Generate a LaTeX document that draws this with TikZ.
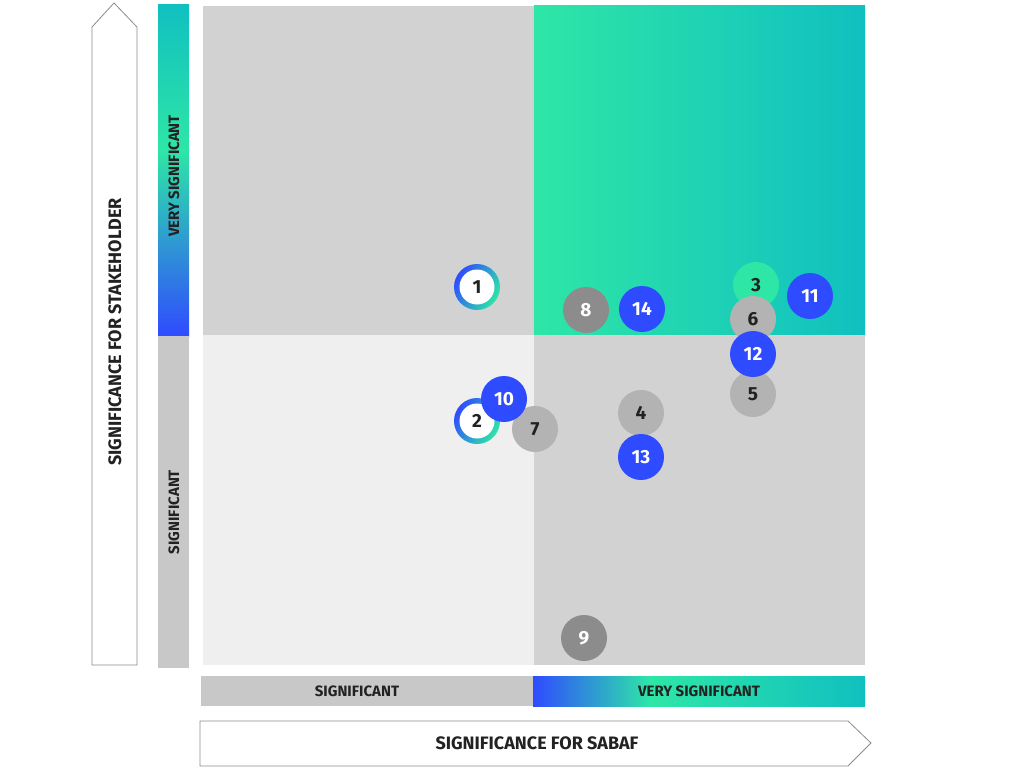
\documentclass[tikz,border=0pt]{standalone}
\usepackage{fontspec}
\setmainfont{Fira Sans}[BoldFont={Fira Sans Bold}]
\begin{document}
\begin{tikzpicture}[x=1pt,y=-1pt,
  num/.style={circle,minimum size=46pt,inner sep=0,font=\bfseries\fontsize{19}{19}\selectfont},
  bl/.style={num,fill=cblue,text=white},
  gr/.style={num,fill=cgray,text=ctext},
  dg/.style={num,fill=cdark,text=white},
  gn/.style={num,fill=cgreen,text=ctext},
  ring/.style={num,minimum size=35pt,fill=white,text=ctext},
  lab/.style={font=\bfseries\fontsize{15}{15}\selectfont,text=ctext},
  big/.style={font=\bfseries\fontsize{18}{18}\selectfont,text=ctext},
  arr/.style={draw=black!45,fill=white,line width=0.8pt}]
\definecolor{cblue}{HTML}{2F4BFF}
\definecolor{cgreen}{HTML}{2EE6A6}
\definecolor{cteal}{HTML}{10C0C0}
\definecolor{cgray}{HTML}{B3B3B3}
\definecolor{cdark}{HTML}{8C8C8C}
\definecolor{cq}{HTML}{D2D2D2}
\definecolor{cl}{HTML}{EFEFEF}
\definecolor{cbar}{HTML}{C8C8C8}
\definecolor{ctext}{HTML}{222222}
\useasboundingbox (0,0) rectangle (1024,768);
\fill[white] (0,0) rectangle (1024,768);
% vertical arrow
\draw[arr] (92,665) -- (92,27) -- (114,3) -- (137,27) -- (137,665) -- cycle;
\node[big,rotate=90] (ylab) at (115,332) {SIGNIFICANCE FOR STAKEHOLDER};
% vertical bar
\shade[top color=cteal,bottom color=cgreen] (158,5) rectangle (189,150);
\shade[top color=cgreen,bottom color=cblue] (158,150) rectangle (189,336);
\fill[cbar] (158,336) rectangle (189,668);
\node[lab,rotate=90] (vs) at (174,176) {VERY SIGNIFICANT};
\node[lab,rotate=90] (s) at (174,512) {SIGNIFICANT};
% quadrants
\fill[cq] (203,6) rectangle (534,335);
\shade[left color=cgreen,right color=cteal] (534,6) rectangle (865,335);
\fill[cl] (203,335) rectangle (534,665);
\fill[cq] (534,335) rectangle (865,665);
% horizontal bar
\fill[cbar] (201,676) rectangle (533,706);
\shade[left color=cblue,right color=cgreen] (533,676) rectangle (650,706);
\shade[left color=cgreen,right color=cteal] (650,676) -- (865,676) -- (865,706) -- (650,706) -- cycle;
\node[lab] (hs) at (357,691) {SIGNIFICANT};
\node[lab] (hvs) at (699,691) {VERY SIGNIFICANT};
% bottom arrow
\draw[arr] (200,721) -- (848,721) -- (871,743) -- (848,766) -- (200,766) -- cycle;
\node[big] (xlab) at (537,743) {SIGNIFICANCE FOR SABAF};
% rings
\shade[left color=cblue,right color=cgreen,shading angle=60] (477,287) circle (23);
\node[ring] (n1) at (477,287) {1};
\shade[left color=cblue,right color=cgreen,shading angle=60] (477,421) circle (23);
\node[ring] (n2) at (477,421) {2};
% circles
\node[gn] (n3) at (756,285) {3};
\node[gr] (n6) at (753,319) {6};
\node[gr] (n5) at (753,394) {5};
\node[bl] (n12) at (753,354) {12};
\node[bl] (n11) at (810,296) {11};
\node[dg] (n8) at (586,310) {8};
\node[bl] (n14) at (642,309) {14};
\node[gr] (n4) at (641,413) {4};
\node[bl] (n13) at (641,457) {13};
\node[gr] (n7) at (535,429) {7};
\node[bl] (n10) at (504,399) {10};
\node[dg] (n9) at (584,638) {9};
\end{tikzpicture}
\end{document}
